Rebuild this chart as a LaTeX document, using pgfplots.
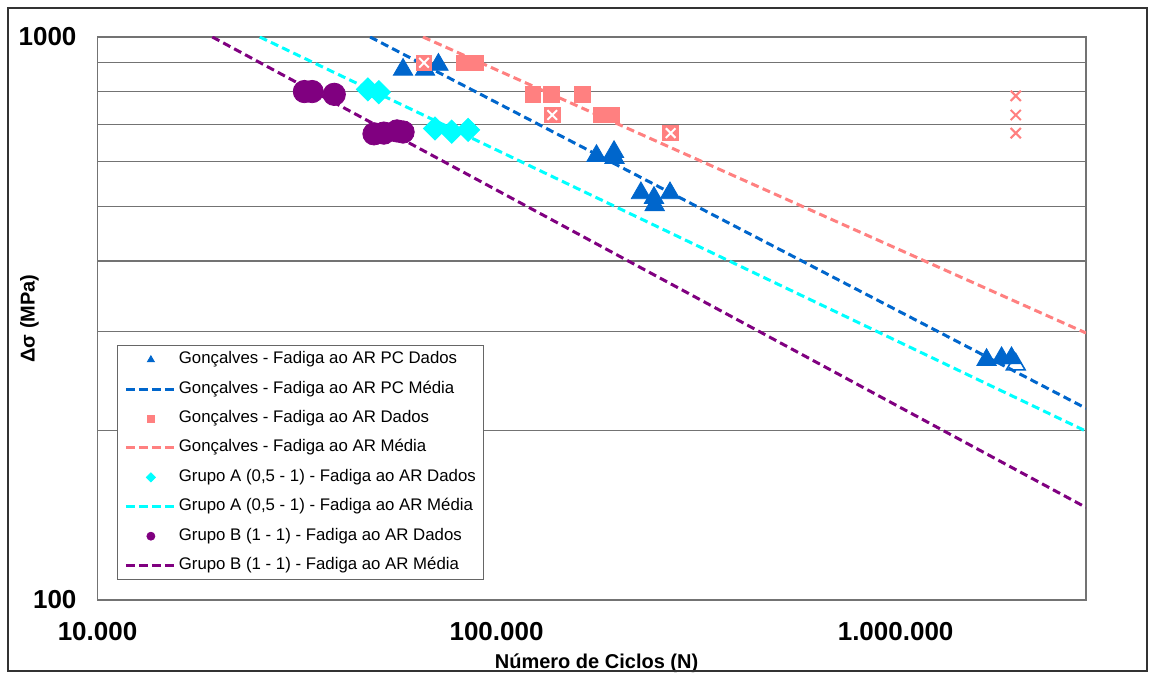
\documentclass[border=0pt]{standalone}
\usepackage{pgfplots}
\pgfplotsset{compat=1.18}
\usepackage{fontspec}
\setmainfont{Liberation Sans}
\definecolor{cblue}{HTML}{0066CC}
\definecolor{cpink}{HTML}{FF8080}
\definecolor{ccyan}{HTML}{00FFFF}
\definecolor{cpurple}{HTML}{800080}
\begin{document}
\begin{tikzpicture}
\useasboundingbox (-48.75pt,-36.5pt) rectangle (526.25pt,300pt);
\begin{axis}[
 at={(0,0)}, anchor=south west,
 width=494.25pt, height=281.5pt, scale only axis,
 xmode=log, ymode=log,
 xmin=10000, xmax=3000000, ymin=100, ymax=1000,
 xtick={10000,100000,1000000},
 xticklabels={10.000,100.000,1.000.000},
 ytick={100,200,300,400,500,600,700,800,900,1000},
 yticklabels={100,{},{},{},{},{},{},{},{},1000},
 ymajorgrids, xmajorgrids=false,
 grid style={black!55, line width=0.6pt},
 axis line style={black!55, line width=0.6pt},
 tick style={draw=none},
 ticklabel style={font=\fontsize{13}{15}\selectfont\bfseries},
 xticklabel style={anchor=center, yshift=-16pt},
 yticklabel style={anchor=east, xshift=-7pt},
 xlabel={Número de Ciclos (N)},
 ylabel={Δσ (MPa)},
 label style={font=\fontsize{10}{12}\selectfont\bfseries},
 xlabel style={at={([xshift=2.4pt,yshift=-34.2pt]axis description cs:0.5,0)}, anchor=base},
 ylabel style={at={([xshift=-31.5pt]axis description cs:0,0.5)}, anchor=base},
 legend style={at={(0.0202,0.0355)}, anchor=south west, draw=black!60, fill=white,
   font=\fontsize{8.4}{10}\selectfont, row sep=6.7pt, inner xsep=3.25pt, inner ysep=3pt,
   nodes={inner xsep=0.75pt, inner ysep=0pt, text height=6pt, text depth=2pt}},
 legend cell align=left,
 legend image code/.code={\draw[mark repeat=2,mark phase=2,#1] plot coordinates {(0pt,0pt) (12.5pt,0pt) (25pt,0pt)};},
]
% Goncalves PC Dados
\addplot[only marks, mark=triangle*, mark size=5.6pt, color=cblue, forget plot] coordinates {
(58300,875) (66200,875) (71500,893)
(178000,615) (197000,625) (197500,610)
(230000,528) (248000,518) (249000,503) (272000,528)
(1690000,267) (1843000,269) (1952000,269)};
\addplot[cblue, line width=1.5pt, dash pattern=on 4pt off 2.2pt, forget plot] coordinates {(48200,1000) (3000000,219)};
% Goncalves Dados
\addplot[only marks, mark=square*, mark size=3.9pt, color=cpink, forget plot] coordinates {
(83100,900) (88500,900) (123200,790) (137400,790) (164300,790) (182400,727) (194400,727)};
\addplot[only marks, mark=square*, mark size=3.9pt, color=cpink, forget plot] coordinates {
(65800,900) (137900,727) (273100,675)};
\addplot[only marks, mark=x, mark size=3.4pt, color=white, mark options={line width=1pt}, forget plot] coordinates {
(65800,900) (137900,727) (273100,675)};
\addplot[cpink, line width=1.5pt, dash pattern=on 4pt off 2.2pt, forget plot] coordinates {(65400,1000) (3000000,298)};
% Grupo A
\addplot[only marks, mark=square*, mark options={rotate=45}, mark size=4.1pt, color=ccyan, forget plot] coordinates {
(47600,807) (50700,798) (70100,688) (77200,679) (84900,684)};
\addplot[ccyan, line width=1.5pt, dash pattern=on 4pt off 2.2pt, forget plot] coordinates {(25500,1000) (3000000,199.5)};
% Grupo B
\addplot[only marks, mark=*, mark size=5.6pt, color=cpurple, forget plot] coordinates {
(33000,800) (34500,800) (39200,791) (49300,673) (52200,675) (56300,681) (58300,678)};
\addplot[cpurple, line width=1.5pt, dash pattern=on 4pt off 2.2pt, forget plot] coordinates {(19400,1000) (3000000,146)};
% runouts
\addplot[only marks, mark=triangle, mark size=5.4pt, mark options={draw=cblue, fill=white, line width=0.8pt}, forget plot] coordinates {(2000000,262)};
\addplot[only marks, mark=x, mark size=3.6pt, color=cpink, mark options={line width=1pt}, forget plot] coordinates {
(2000000,786) (2000000,727) (2000000,675)};
% legend
\addlegendimage{only marks, mark=triangle*, mark size=2pt, color=cblue}
\addlegendentry{Gonçalves - Fadiga ao AR PC Dados}
\addlegendimage{cblue, line width=1.5pt, dash pattern=on 4.5pt off 2pt}
\addlegendentry{Gonçalves - Fadiga ao AR PC Média}
\addlegendimage{only marks, mark=square*, mark size=1.8pt, color=cpink}
\addlegendentry{Gonçalves - Fadiga ao AR Dados}
\addlegendimage{cpink, line width=1.5pt, dash pattern=on 4.5pt off 2pt}
\addlegendentry{Gonçalves - Fadiga ao AR Média}
\addlegendimage{only marks, mark=square*, mark options={rotate=45}, mark size=1.6pt, color=ccyan}
\addlegendentry{Grupo A (0,5 - 1) - Fadiga ao AR Dados}
\addlegendimage{ccyan, line width=1.5pt, dash pattern=on 4.5pt off 2pt}
\addlegendentry{Grupo A (0,5 - 1) - Fadiga ao AR Média}
\addlegendimage{only marks, mark=*, mark size=2pt, color=cpurple}
\addlegendentry{Grupo B (1 - 1) - Fadiga ao AR Dados}
\addlegendimage{cpurple, line width=1.5pt, dash pattern=on 4.5pt off 2pt}
\addlegendentry{Grupo B (1 - 1) - Fadiga ao AR Média}
\end{axis}
\draw[black!80, line width=0.6pt] (-44.75pt,-35.5pt) rectangle (524.75pt,296pt);
\end{tikzpicture}
\end{document}
